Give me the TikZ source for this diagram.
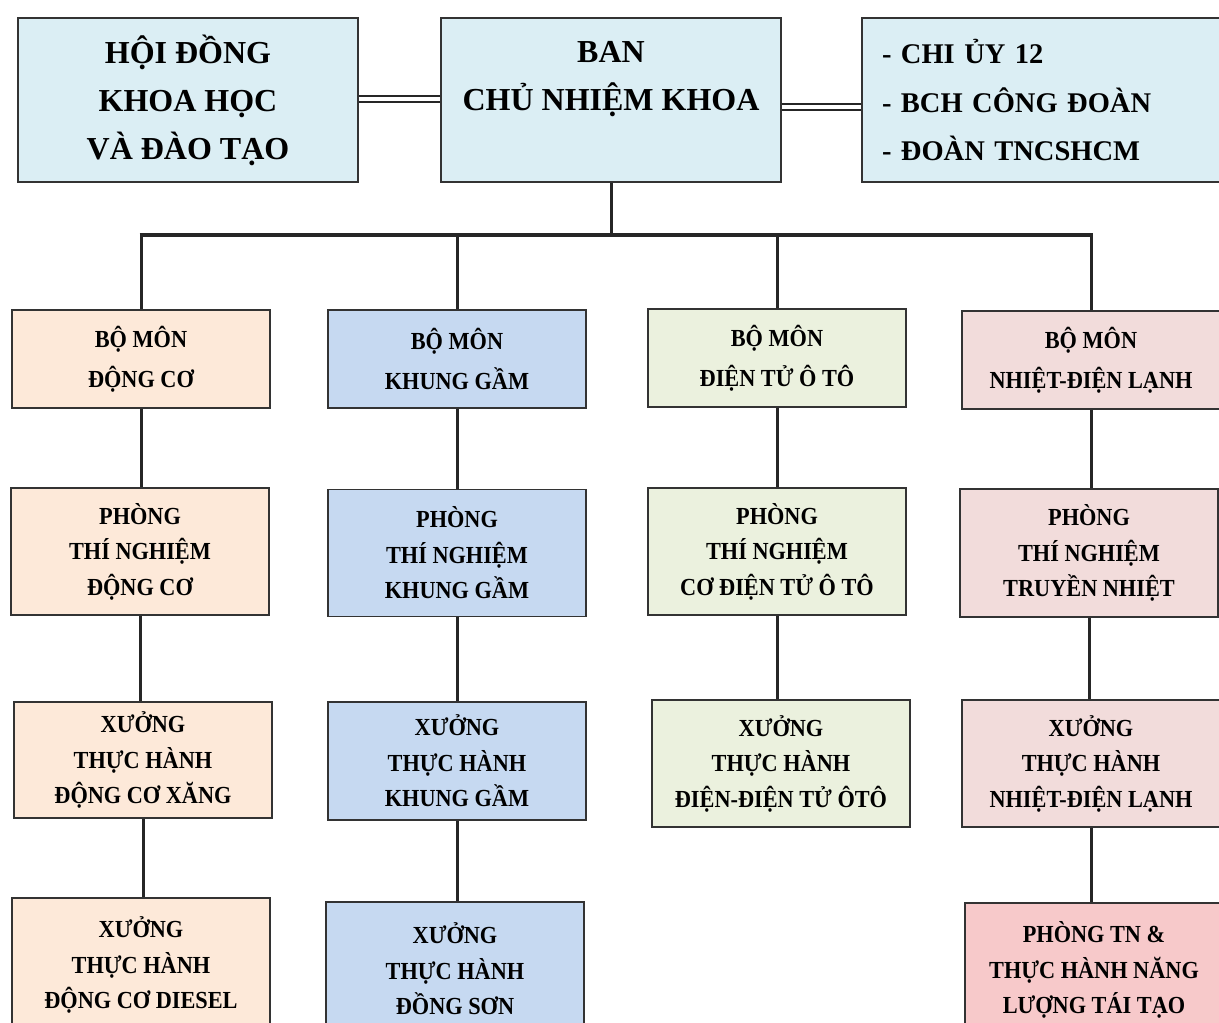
\documentclass[tikz,border=0pt]{standalone}
\usepackage{fontspec}
\setmainfont{Liberation Serif}
\newfontfamily\rowfont{Liberation Serif}[FakeStretch=0.91]
\definecolor{topc}{HTML}{DBEEF4}
\definecolor{cA}{HTML}{FDE9D9}
\definecolor{cB}{HTML}{C6D9F1}
\definecolor{cC}{HTML}{EBF1DE}
\definecolor{cD}{HTML}{F2DCDB}
\definecolor{cE}{HTML}{F7C9CA}
\definecolor{bordc}{HTML}{333333}
\begin{document}
\begin{tikzpicture}[x=1pt,y=-1pt,
  box/.style={draw=bordc, line width=1.8pt, inner sep=0pt, align=center,
    minimum width=258, font=\rowfont\bfseries\fontsize{24.5}{35.5}\selectfont},
  rowone/.style={box, minimum height=98, font=\rowfont\bfseries\fontsize{24.5}{40}\selectfont},
  topbox/.style={draw=bordc, line width=1.8pt, inner sep=0pt, align=center, fill=topc,
    minimum height=164, font=\bfseries\fontsize{32}{48}\selectfont},
  conn/.style={line width=3pt, draw=black!85},
  dbl/.style={line width=1.8pt, double distance=4pt, double=white, draw=black!85}]
\useasboundingbox (0,0) rectangle (1219,1023);
\fill[white] (0,0) rectangle (1219,1023);

% top row
\node[topbox, minimum width=340] (hd) at (188,100) {HỘI ĐỒNG\\KHOA HỌC\\VÀ ĐÀO TẠO};
\node[topbox, minimum width=340] (ban) at (611,100) {BAN\\CHỦ NHIỆM KHOA\\\phantom{X}};
\node[topbox, align=left, text width=323, inner xsep=20, font=\bfseries\fontsize{28.5}{48.5}\selectfont] (dang) at (1043.5,100) {- CHI ỦY 12\\- BCH CÔNG ĐOÀN\\- ĐOÀN TNCSHCM};

% row 1
\node[rowone, fill=cA] (a1) at (141,359) {BỘ MÔN\\ĐỘNG CƠ};
\node[rowone, fill=cB] (b1) at (457,359) {BỘ MÔN\\KHUNG GẦM};
\node[rowone, fill=cC] (c1) at (777,358) {BỘ MÔN\\ĐIỆN TỬ Ô TÔ};
\node[rowone, fill=cD] (d1) at (1091,360) {BỘ MÔN\\NHIỆT-ĐIỆN LẠNH};

% row 2
\node[box, fill=cA, minimum height=127] (a2) at (140,551.5) {PHÒNG\\THÍ NGHIỆM\\ĐỘNG CƠ};
\node[box, fill=cB, minimum height=127] (b2) at (457,553) {PHÒNG\\THÍ NGHIỆM\\KHUNG GẦM};
\node[box, fill=cC, minimum height=127] (c2) at (777,551.5) {PHÒNG\\THÍ NGHIỆM\\CƠ ĐIỆN TỬ Ô TÔ};
\node[box, fill=cD, minimum height=128] (d2) at (1089,553) {PHÒNG\\THÍ NGHIỆM\\TRUYỀN NHIỆT};

% row 3
\node[box, fill=cA, minimum height=116] (a3) at (143,760) {XƯỞNG\\THỰC HÀNH\\ĐỘNG CƠ XĂNG};
\node[box, fill=cB, minimum height=118] (b3) at (457,761) {XƯỞNG\\THỰC HÀNH\\KHUNG GẦM};
\node[box, fill=cC, minimum height=127] (c3) at (781,763.5) {XƯỞNG\\THỰC HÀNH\\ĐIỆN-ĐIỆN TỬ ÔTÔ};
\node[box, fill=cD, minimum height=127] (d3) at (1091,763.5) {XƯỞNG\\THỰC HÀNH\\NHIỆT-ĐIỆN LẠNH};

% row 4
\node[box, fill=cA, minimum height=134] (a4) at (141,965) {XƯỞNG\\THỰC HÀNH\\ĐỘNG CƠ DIESEL};
\node[box, fill=cB, minimum height=134] (b4) at (455,969) {XƯỞNG\\THỰC HÀNH\\ĐỒNG SƠN};
\node[box, fill=cE, minimum height=134] (d4) at (1094,970) {PHÒNG TN \&\\THỰC HÀNH NĂNG\\LƯỢNG TÁI TẠO};

% double lines
\draw[dbl] ([yshift=1pt]hd.east) -- ([yshift=1pt]ban.west);
\draw[dbl] ([yshift=-7pt]ban.east) -- ([yshift=-7pt]ban.east -| dang.west);

% tree
\coordinate (bus) at (0,235);
\draw[conn] (ban.south) -- (ban.south |- bus);
\draw[conn, line width=3.6pt] ([xshift=-1.5pt]a1.north |- bus) -- ([xshift=1.5pt]d1.north |- bus);
\foreach \n in {a1,b1,c1,d1} \draw[conn] (\n.north) -- (\n.north |- bus);
\draw[conn] (a1.south) -- (a1.south |- a2.north);
\draw[conn] (a2.south) -- (a2.south |- a3.north);
\draw[conn] (a3.south) -- (a3.south |- a4.north);
\draw[conn] (b1.south) -- (b1.south |- b2.north);
\draw[conn] (b2.south) -- (b2.south |- b3.north);
\draw[conn] (b3.south) -- (b3.south |- b4.north);
\draw[conn] (c1.south) -- (c1.south |- c2.north);
\draw[conn] (c2.south) -- (c2.south |- c3.north);
\draw[conn] (d1.south) -- (d1.south |- d2.north);
\draw[conn] (d2.south) -- (d2.south |- d3.north);
\draw[conn] (d3.south) -- (d3.south |- d4.north);
\end{tikzpicture}
\end{document}
